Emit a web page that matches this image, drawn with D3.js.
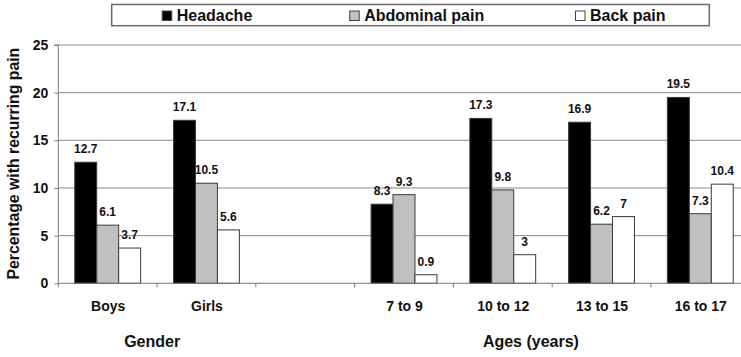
<!DOCTYPE html>
<html>
<head>
<meta charset="utf-8">
<script src="https://cdn.jsdelivr.net/npm/d3@7"></script>
<style>
  html, body { margin: 0; padding: 0; background: #fff; }
  svg { display: block; font-family: "Liberation Sans", Arial, sans-serif; font-weight: bold; }
</style>
</head>
<body>
<svg id="chart" width="741" height="357"></svg>
<script>
// Recurring pain by gender and age group
const categories = ["Boys", "Girls", "", "7 to 9", "10 to 12", "13 to 15", "16 to 17"];
const seriesNames = ["Headache", "Abdominal pain", "Back pain"];
const headache  = [12.7, 17.1, null, 8.3, 17.3, 16.9, 19.5];
const abdominal = [6.1, 10.5, null, 9.3, 9.8, 6.2, 7.3];
const backPain  = [3.7, 5.6, null, 0.9, 3, 7, 10.4];
const yTicks = [0, 5, 10, 15, 20, 25];
const groupNames = ["Gender", "Ages (years)"];
const groupSpans = [["Boys", "Girls"], ["7 to 9", "16 to 17"]];

const fills = ["#000000", "#c0c0c0", "#ffffff"];
const seriesValues = [headache, abdominal, backPain];

const svg = d3.select("#chart");
const plot = { left: 58.3, right: 749.7, top: 45, bottom: 283.3 };

// slot keys must be unique, so the empty spacer gets an index-based key
const keys = categories.map((c, i) => i);
const x = d3.scaleBand().domain(keys).range([plot.left, plot.right]).padding(0);
const xs = d3.scaleBand().domain(d3.range(seriesNames.length))
  .range([x.bandwidth() / 6, x.bandwidth() * 5 / 6]).padding(0);
const y = d3.scaleLinear().domain([0, 25]).range([plot.bottom, plot.top]);

// horizontal gridlines
svg.append("g").selectAll("line").data(yTicks.filter(t => t > 0)).join("line")
  .attr("x1", plot.left).attr("x2", plot.right)
  .attr("y1", d => y(d)).attr("y2", d => y(d))
  .attr("stroke", "#8a8a8a").attr("stroke-width", 1);

// bars
const groups = svg.append("g").selectAll("g").data(keys).join("g")
  .attr("transform", k => `translate(${x(k)},0)`);
groups.selectAll("rect")
  .data(k => seriesValues.map((vals, s) => ({ s, v: vals[k] })).filter(d => d.v != null))
  .join("rect")
  .attr("x", d => xs(d.s))
  .attr("width", xs.bandwidth())
  .attr("y", d => y(d.v))
  .attr("height", d => y(0) - y(d.v))
  .attr("fill", d => fills[d.s])
  .attr("stroke", "#3a3a3a").attr("stroke-width", 1);

// value labels
groups.selectAll("text")
  .data(k => seriesValues.map((vals, s) => ({ s, v: vals[k] })).filter(d => d.v != null))
  .join("text")
  .attr("x", d => xs(d.s) + xs.bandwidth() / 2)
  .attr("y", d => y(d.v) - 9)
  .attr("text-anchor", "middle")
  .attr("font-size", 12)
  .attr("fill", "#111")
  .text(d => String(d.v));

// y axis
const yAxis = d3.axisLeft(y).tickValues(yTicks).tickSize(4).tickPadding(6);
const gy = svg.append("g").attr("transform", `translate(${plot.left},0)`).call(yAxis);
gy.select(".domain").attr("stroke", "#777").attr("d", `M-4,${plot.top}H0V${plot.bottom}`);
gy.selectAll(".tick line").attr("stroke", "#777");
gy.selectAll(".tick text").attr("font-size", 14).attr("font-family", null).attr("fill", "#111");

// x axis with slot boundary ticks and category labels
svg.append("line")
  .attr("x1", plot.left).attr("x2", plot.right)
  .attr("y1", plot.bottom).attr("y2", plot.bottom)
  .attr("stroke", "#777");
svg.append("g").selectAll("line").data(keys.concat([keys.length])).join("line")
  .attr("x1", k => plot.left + k * x.step()).attr("x2", k => plot.left + k * x.step())
  .attr("y1", plot.bottom).attr("y2", plot.bottom + 4)
  .attr("stroke", "#777");
svg.append("g").selectAll("text").data(keys).join("text")
  .attr("x", k => x(k) + x.bandwidth() / 2 + 0.5)
  .attr("y", 310.7)
  .attr("text-anchor", "middle")
  .attr("font-size", 14)
  .attr("fill", "#111")
  .text(k => categories[k]);

// group labels under the categories, nudged left of their span centre
const groupNudge = [-0.05, -0.215];
svg.append("g").selectAll("text").data(groupNames).join("text")
  .attr("x", (d, i) => {
    const a = x(categories.indexOf(groupSpans[i][0]));
    const b = x(categories.indexOf(groupSpans[i][1])) + x.bandwidth();
    return (a + b) / 2 + groupNudge[i] * x.step();
  })
  .attr("y", 346.7)
  .attr("text-anchor", "middle")
  .attr("font-size", 16)
  .attr("fill", "#111")
  .text(d => d);

// y axis title
svg.append("text")
  .attr("transform", `translate(19,${(plot.top + plot.bottom) / 2 - 0.5}) rotate(-90)`)
  .attr("text-anchor", "middle")
  .attr("font-size", 15.8)
  .attr("fill", "#111")
  .text("Percentage with recurring pain");

// legend
const legend = svg.append("g");
legend.append("rect")
  .attr("x", 111.7).attr("y", 4.5).attr("width", 597.6).attr("height", 21.2)
  .attr("fill", "#fff").attr("stroke", "#6a6a6a").attr("stroke-width", 1.5);
const legendX = [161.7, 349.2, 575];
const items = legend.selectAll("g").data(seriesNames).join("g")
  .attr("transform", (d, i) => `translate(${legendX[i]},0)`);
items.append("rect")
  .attr("x", 0.5).attr("y", 11).attr("width", 9.5).attr("height", 9.5)
  .attr("fill", (d, i) => fills[i]).attr("stroke", "#444").attr("stroke-width", 1);
items.append("text")
  .attr("x", 15).attr("y", 21)
  .attr("font-size", 16)
  .attr("fill", "#111")
  .text(d => d);
</script>
</body>
</html>
